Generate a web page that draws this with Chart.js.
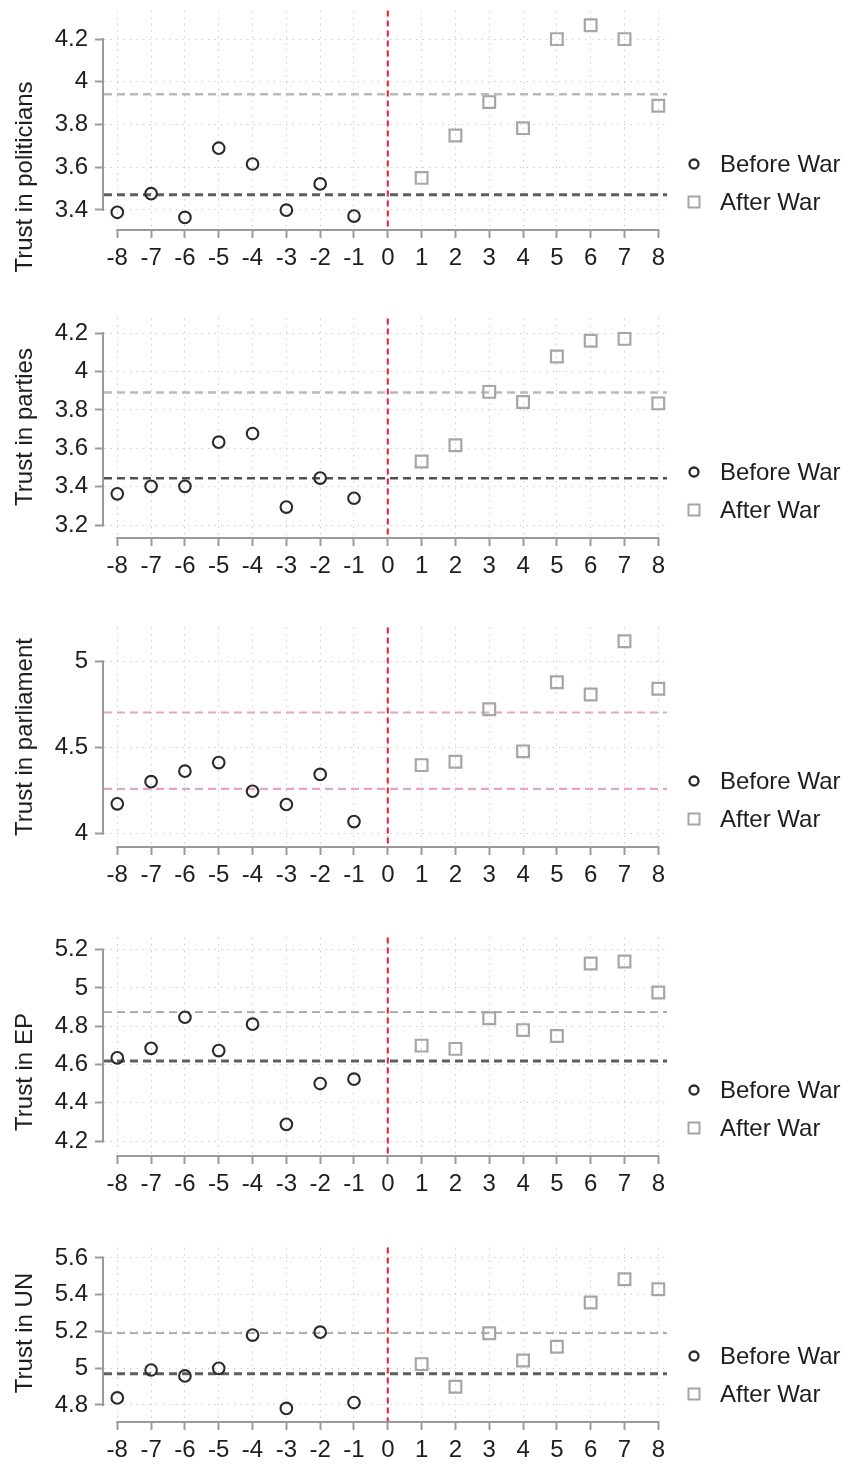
<!DOCTYPE html>
<html>
<head>
<meta charset="utf-8">
<script src="https://cdn.jsdelivr.net/npm/chart.js@4.4.1/dist/chart.umd.min.js"></script>
<style>
  html, body { margin: 0; padding: 0; background: #fff; }
  #wrap { position: relative; width: 844px; height: 1464px; overflow: hidden; background: #fff; }
  #wrap canvas { position: absolute; left: 0; }
</style>
</head>
<body>
<div id="wrap"></div>
<script>
// Event time (years relative to the war) and series
const xBefore = [-8, -7, -6, -5, -4, -3, -2, -1];
const xAfter = [1, 2, 3, 4, 5, 6, 7, 8];
const xTicks = [-8, -7, -6, -5, -4, -3, -2, -1, 0, 1, 2, 3, 4, 5, 6, 7, 8];
const eventTime = 0;
const seriesNames = ['Before War', 'After War'];

const politiciansBefore = [3.389, 3.476, 3.365, 3.689, 3.615, 3.399, 3.522, 3.371];
const politiciansAfter  = [3.550, 3.749, 3.905, 3.783, 4.200, 4.265, 4.200, 3.888];
const politiciansMeans  = [3.471, 3.942];
const politiciansTicks  = [3.4, 3.6, 3.8, 4.0, 4.2];

const partiesBefore = [3.363, 3.402, 3.402, 3.632, 3.677, 3.294, 3.445, 3.340];
const partiesAfter  = [3.531, 3.616, 3.894, 3.841, 4.078, 4.160, 4.170, 3.834];
const partiesMeans  = [3.444, 3.891];
const partiesTicks  = [3.2, 3.4, 3.6, 3.8, 4.0, 4.2];

const parliamentBefore = [4.172, 4.301, 4.362, 4.412, 4.245, 4.168, 4.343, 4.069];
const parliamentAfter  = [4.397, 4.417, 4.722, 4.477, 4.879, 4.808, 5.117, 4.841];
const parliamentMeans  = [4.259, 4.703];
const parliamentTicks  = [4.0, 4.5, 5.0];

const epBefore = [4.635, 4.685, 4.847, 4.673, 4.811, 4.288, 4.501, 4.524];
const epAfter  = [4.699, 4.682, 4.842, 4.780, 4.749, 5.128, 5.138, 4.976];
const epMeans  = [4.619, 4.874];
const epTicks  = [4.2, 4.4, 4.6, 4.8, 5.0, 5.2];

const unBefore = [4.838, 4.990, 4.958, 4.999, 5.180, 4.781, 5.196, 4.813];
const unAfter  = [5.022, 4.899, 5.190, 5.042, 5.117, 5.358, 5.484, 5.430];
const unMeans  = [4.969, 5.191];
const unTicks  = [4.8, 5.0, 5.2, 5.4, 5.6];

const titles = ['Trust in politicians', 'Trust in parties', 'Trust in parliament', 'Trust in EP', 'Trust in UN'];

// Line styles for the mean reference lines
const darkThick  = { color: '#5e5e5e', width: 3.0, dash: [8, 5] };
const darkMed    = { color: '#505050', width: 2.4, dash: [8, 5] };
const lightThick = { color: '#bababa', width: 2.4, dash: [8, 5] };
const lightThin  = { color: '#a4a4a4', width: 1.6, dash: [8, 5] };
const pink       = { color: '#e2a6c6', width: 2.2, dash: [8, 5] };

// Panel frames: plot region top/bottom on the page, axis range, title centre
const panels = [
  { title: titles[0], before: politiciansBefore, after: politiciansAfter, means: politiciansMeans, ticks: politiciansTicks,
    top: 8, bottom: 230, yMin: 3.306, yMax: 4.334, titleY: 177, meanStyles: [darkThick, lightThick] },
  { title: titles[1], before: partiesBefore, after: partiesAfter, means: partiesMeans, ticks: partiesTicks,
    top: 316, bottom: 538, yMin: 3.133, yMax: 4.276, titleY: 427, meanStyles: [darkMed, lightThick] },
  { title: titles[2], before: parliamentBefore, after: parliamentAfter, means: parliamentMeans, ticks: parliamentTicks,
    top: 625, bottom: 847, yMin: 3.921, yMax: 5.197, titleY: 737, meanStyles: [pink, pink] },
  { title: titles[3], before: epBefore, after: epAfter, means: epMeans, ticks: epTicks,
    top: 935, bottom: 1156, yMin: 4.1226, yMax: 5.2635, titleY: 1072, meanStyles: [darkThick, lightThin] },
  { title: titles[4], before: unBefore, after: unAfter, means: unMeans, ticks: unTicks,
    top: 1245, bottom: 1422, yMin: 4.707, yMax: 5.657, titleY: 1333, meanStyles: [darkThick, lightThin] }
];

const FONT = "'Liberation Sans', Arial, Helvetica, sans-serif";
const FONT_SIZE = 24;
Chart.defaults.font.family = FONT;
Chart.defaults.font.size = FONT_SIZE;
Chart.defaults.color = '#1e1e1e';

const PAD_TOP = 8;
const X_AXIS_H = 60;
const AXIS_GRAY = '#9a9a9a';

// Stata-style decorations: mean lines, event line, short axis lines, title, legend
const stataDecor = {
  id: 'stataDecor',
  beforeDatasetsDraw(chart, args, opts) {
    const { ctx, chartArea: a, scales: { x, y } } = chart;
    ctx.save();
    opts.means.forEach((m, i) => {
      const st = opts.meanStyles[i];
      const py = y.getPixelForValue(m);
      ctx.strokeStyle = st.color;
      ctx.lineWidth = st.width;
      ctx.setLineDash(st.dash);
      ctx.beginPath();
      ctx.moveTo(a.left, py);
      ctx.lineTo(a.right, py);
      ctx.stroke();
    });
    const px0 = x.getPixelForValue(eventTime);
    ctx.strokeStyle = '#ee1c2e';
    ctx.lineWidth = 2;
    ctx.setLineDash([6, 4]);
    ctx.beginPath();
    ctx.moveTo(px0, a.top);
    ctx.lineTo(px0, a.bottom);
    ctx.stroke();

    ctx.setLineDash([]);
    ctx.strokeStyle = AXIS_GRAY;
    ctx.lineWidth = 2;
    const t = opts.yTicks;
    ctx.beginPath();
    ctx.moveTo(a.left - 1, y.getPixelForValue(t[0]) + 1);
    ctx.lineTo(a.left - 1, y.getPixelForValue(t[t.length - 1]) - 1);
    ctx.stroke();
    ctx.beginPath();
    ctx.moveTo(x.getPixelForValue(xTicks[0]) - 1, a.bottom);
    ctx.lineTo(x.getPixelForValue(xTicks[xTicks.length - 1]) + 1, a.bottom);
    ctx.stroke();
    ctx.restore();
  },
  afterDraw(chart, args, opts) {
    const { ctx, chartArea: a } = chart;
    ctx.save();
    // y-axis title
    ctx.translate(25, opts.titleY);
    ctx.rotate(-Math.PI / 2);
    ctx.font = FONT_SIZE + 'px ' + FONT;
    ctx.fillStyle = '#1e1e1e';
    ctx.textAlign = 'center';
    ctx.textBaseline = 'middle';
    ctx.fillText(opts.title, 0, 0);
    ctx.restore();

    // legend
    ctx.save();
    const rows = [a.bottom - 66, a.bottom - 28];
    const mx = 694, tx = 720;
    chart.data.datasets.forEach((ds, i) => {
      const cy = rows[i];
      ctx.setLineDash([]);
      ctx.strokeStyle = ds.pointBorderColor;
      if (ds.pointStyle === 'circle') {
        ctx.lineWidth = 2.3;
        ctx.beginPath();
        ctx.arc(mx, cy, 4.5, 0, Math.PI * 2);
        ctx.stroke();
      } else {
        ctx.lineWidth = 2;
        ctx.strokeRect(mx - 5.5, cy - 5.5, 11, 11);
      }
      ctx.font = FONT_SIZE + 'px ' + FONT;
      ctx.fillStyle = '#1e1e1e';
      ctx.textAlign = 'left';
      ctx.textBaseline = 'middle';
      ctx.fillText(ds.label, tx, cy + 1);
    });
    ctx.restore();
  }
};

const wrap = document.getElementById('wrap');

panels.forEach((p) => {
  const canvasTop = p.top - PAD_TOP;
  const h = PAD_TOP + (p.bottom - p.top) + X_AXIS_H;
  const cv = document.createElement('canvas');
  cv.width = 844;
  cv.height = h;
  cv.style.top = canvasTop + 'px';
  cv.style.width = '844px';
  cv.style.height = h + 'px';
  wrap.appendChild(cv);

  new Chart(cv.getContext('2d'), {
    type: 'scatter',
    data: {
      datasets: [
        {
          label: seriesNames[0],
          data: xBefore.map((xv, i) => ({ x: xv, y: p.before[i] })),
          pointStyle: 'circle',
          pointRadius: 5.8,
          pointBorderWidth: 2.1,
          pointBorderColor: '#2a2a2a',
          pointBackgroundColor: 'rgba(0,0,0,0)',
          showLine: false
        },
        {
          label: seriesNames[1],
          data: xAfter.map((xv, i) => ({ x: xv, y: p.after[i] })),
          pointStyle: 'rect',
          pointRadius: 8.3,
          pointBorderWidth: 2.2,
          pointBorderColor: '#a6a6a6',
          pointBackgroundColor: 'rgba(0,0,0,0)',
          showLine: false
        }
      ]
    },
    options: {
      responsive: false,
      animation: false,
      devicePixelRatio: 1,
      events: [],
      layout: { padding: { top: PAD_TOP, left: 0, right: 177, bottom: 0 } },
      plugins: {
        legend: { display: false },
        tooltip: { enabled: false },
        stataDecor: {
          means: p.means,
          meanStyles: p.meanStyles,
          yTicks: p.ticks,
          title: p.title,
          titleY: p.titleY - canvasTop
        }
      },
      scales: {
        x: {
          type: 'linear',
          min: -8.393,
          max: 8.257,
          afterBuildTicks: (s) => { s.ticks = xTicks.map((v) => ({ value: v })); },
          afterFit: (s) => { s.height = X_AXIS_H; s.paddingLeft = 0; s.paddingRight = 0; s.paddingTop = 0; s.paddingBottom = 0; },
          grid: { color: '#cfcfcf', lineWidth: 1, tickLength: 8, tickColor: AXIS_GRAY, tickWidth: 2, tickBorderDash: [] },
          border: { display: false, dash: [1.5, 5] },
          ticks: { padding: 6, color: '#1e1e1e', maxRotation: 0, minRotation: 0, autoSkip: false, callback: (v) => String(v) }
        },
        y: {
          type: 'linear',
          min: p.yMin,
          max: p.yMax,
          afterBuildTicks: (s) => { s.ticks = p.ticks.map((v) => ({ value: v })); },
          afterFit: (s) => { s.width = 104; s.paddingLeft = 0; s.paddingRight = 0; s.paddingTop = 0; s.paddingBottom = 0; },
          grid: { color: '#cfcfcf', lineWidth: 1, tickLength: 9, tickColor: AXIS_GRAY, tickWidth: 2, tickBorderDash: [] },
          border: { display: false, dash: [1.5, 5] },
          ticks: { padding: 7, color: '#1e1e1e', autoSkip: false, callback: (v) => String(v) }
        }
      }
    },
    plugins: [stataDecor]
  });
});
</script>
</body>
</html>
